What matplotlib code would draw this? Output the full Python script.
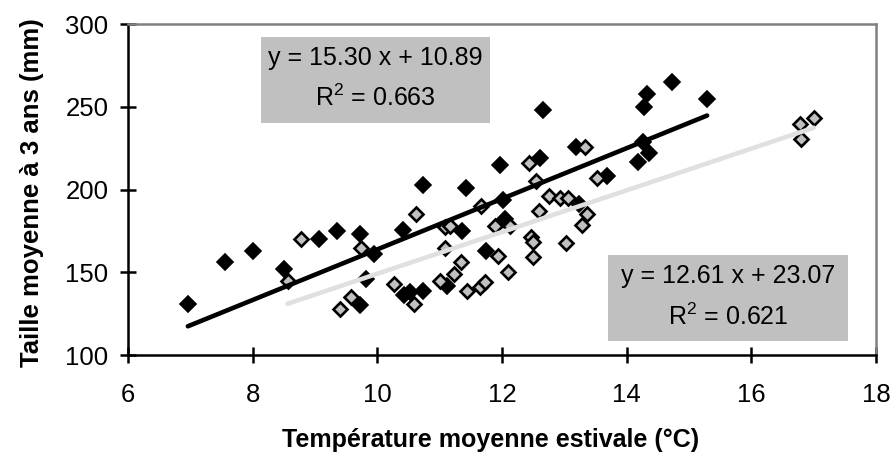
import numpy as np
import matplotlib
matplotlib.use("Agg")
import matplotlib.pyplot as plt
from matplotlib.patches import Rectangle

plt.rcParams['font.family'] = ['Liberation Sans', 'DejaVu Sans']
plt.rcParams['mathtext.fontset'] = 'custom'
plt.rcParams['mathtext.rm'] = 'Liberation Sans'
plt.rcParams['mathtext.it'] = 'Liberation Sans'

# series 1 (black diamonds)
x_black = [6.96, 7.56, 8.01, 8.50, 9.07, 9.35, 9.72, 9.95, 9.82, 9.72,
           10.41, 10.42, 10.52, 10.73, 10.74, 11.11, 11.35, 11.42, 11.74, 11.97,
           12.02, 12.05, 12.61, 12.66, 13.19, 13.24, 13.68, 14.26, 14.35, 14.18,
           14.27, 14.32, 14.73, 15.29]
y_black = [131, 156, 163, 152, 170, 175, 173, 161, 146, 130,
           175.5, 136, 138, 139, 203, 142, 175, 201, 163, 215,
           194, 182, 219, 248, 226, 191.5, 208, 229, 222, 217,
           250, 258, 265, 255]

# series 2 (grey diamonds)
x_grey = [8.56, 8.78, 9.73, 9.57, 9.40, 10.26, 10.58, 10.62, 11.00, 11.09,
          11.17, 11.09, 11.23, 11.34, 11.44, 11.65, 11.72, 11.67, 11.94, 12.09,
          11.89, 12.13, 12.44, 12.55, 12.49, 12.46, 12.50, 12.59, 12.76, 12.93,
          13.06, 13.03, 13.33, 13.36, 13.28, 13.52, 16.78, 17.00, 16.79]
y_grey = [145, 170, 165, 135, 128, 143, 131, 185, 145, 177.5,
          178, 165, 149, 156, 139, 141, 144, 190, 160, 150,
          178, 178, 216, 205, 159.5, 171.5, 168.5, 187, 196, 195,
          195, 167.5, 226, 185, 178.5, 207, 240, 243.6, 230.5]

# trendline coefficients (slope, intercept, r2)
fit_black = (15.30, 10.89, 0.663)
fit_grey = (12.61, 23.07, 0.621)

fig = plt.figure(figsize=(8.91, 4.61), dpi=100)
ax = fig.add_axes([0.1437, 0.2299, 0.8395, 0.7174])

ax.plot(x_black, y_black, 'D', ms=7.8, mfc='black', mec='black', mew=1.2, zorder=3)
ax.plot(x_grey, y_grey, 'D', ms=7.2, mfc='#c0c0c0', mec='black', mew=1.9, zorder=4)

xb = np.array([min(x_black), max(x_black)])
ax.plot(xb, fit_black[0] * xb + fit_black[1], color='black', lw=3.3, solid_capstyle='round', zorder=5)
xg = np.array([min(x_grey), max(x_grey)])
ax.plot(xg, fit_grey[0] * xg + fit_grey[1], color='#e0e0e0', lw=3.3, solid_capstyle='round', zorder=5)

ax.set_xlim(6, 18)
ax.set_ylim(100, 300)
ax.set_xticks(np.arange(6, 19, 2))
ax.set_yticks(np.arange(100, 301, 50))

for s in ['left', 'bottom']:
    ax.spines[s].set_linewidth(1.8)
    ax.spines[s].set_color('black')
for s in ['top', 'right']:
    ax.spines[s].set_linewidth(1.8)
    ax.spines[s].set_color('#808080')

ax.tick_params(direction='inout', length=12, width=1.8, labelsize=18.5)
ax.tick_params(axis='x', pad=14)
ax.tick_params(axis='y', pad=8)

ax.set_xlabel('Température moyenne estivale (°C)', fontsize=18, fontweight='bold', va='top')
ax.xaxis.set_label_coords(0.485, -0.222)
ax.set_ylabel('Taille moyenne à 3 ans (mm)', fontsize=18.5, fontweight='bold')
ax.yaxis.set_label_coords(-0.112, 0.49)

# equation boxes
boxes = [((0.1774, 0.7025), 0.3066, 0.26, fit_black),
         ((0.642, 0.0432), 0.321, 0.2592, fit_grey)]
for (bx, by), bw, bh, fit in boxes:
    ax.add_patch(Rectangle((bx, by), bw, bh, transform=ax.transAxes,
                           facecolor='#c0c0c0', edgecolor='none', zorder=6))
    txt = 'y = %.2f x + %.2f\nR$^{2}$ = %.3f' % fit
    ax.text(bx + bw / 2, by + bh / 2 + 0.003, txt, transform=ax.transAxes,
            ha='center', va='center', multialignment='center',
            fontsize=18, linespacing=1.7, zorder=7)

fig.savefig('out.png', dpi=100)
